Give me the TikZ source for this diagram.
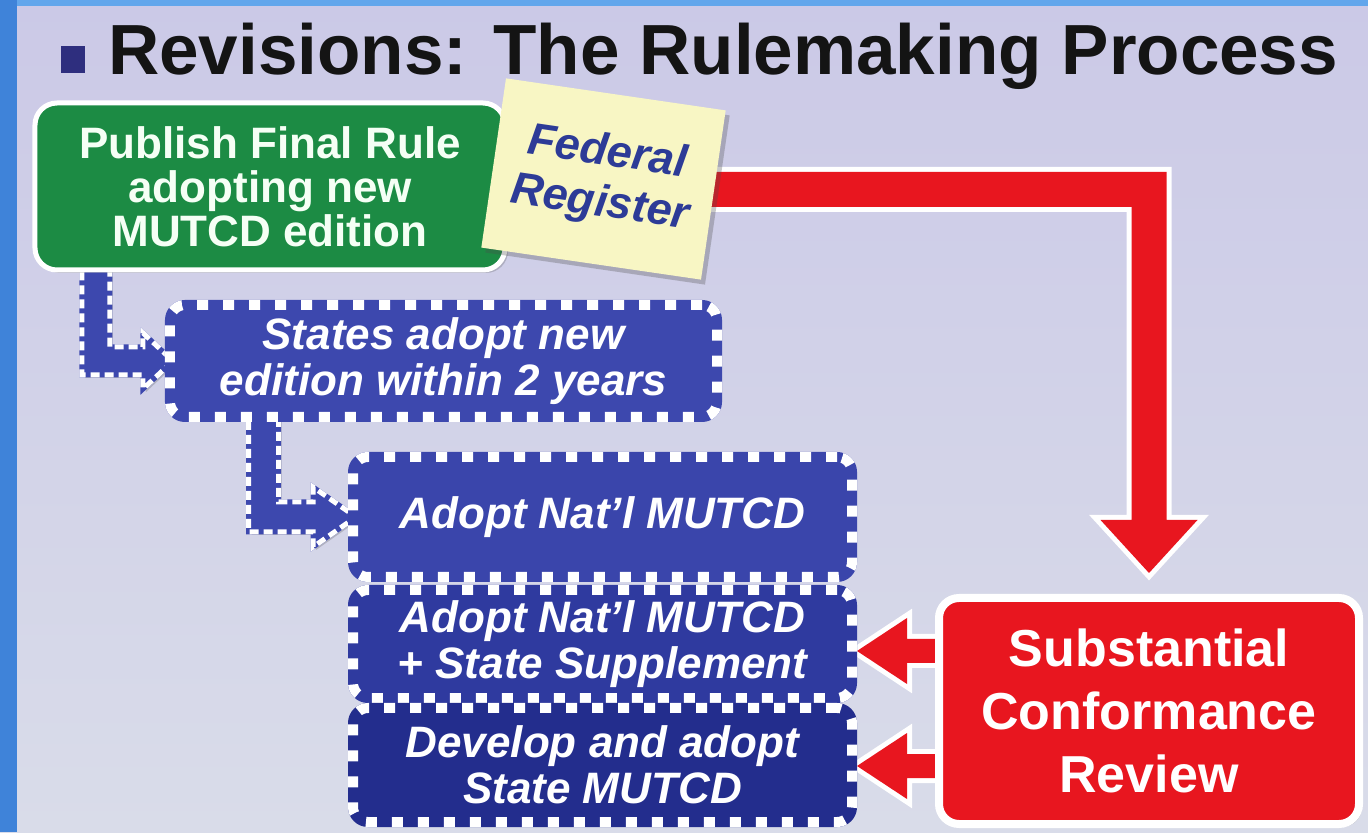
\documentclass[tikz,border=0pt]{standalone}
\usepackage{fontspec}
\setmainfont{Liberation Sans}
\usetikzlibrary{calc,shadows}
\pgfdeclarelayer{bg}
\pgfdeclarelayer{arr}
\pgfsetlayers{bg,arr,main}
\definecolor{bgtop}{HTML}{CBC9E7}
\definecolor{bgbot}{HTML}{D9DCE9}
\definecolor{stripL}{HTML}{3F83D9}
\definecolor{stripT}{HTML}{62A6EC}
\definecolor{navy}{HTML}{2E2E7E}
\definecolor{grn}{HTML}{1C8B44}
\definecolor{stickyc}{HTML}{F8F6C4}
\definecolor{stickytxt}{HTML}{2D3B97}
\definecolor{redc}{HTML}{E8161F}
\definecolor{blueA}{HTML}{3D48AE}
\definecolor{blueB}{HTML}{3A45AB}
\definecolor{blueC}{HTML}{2F3A9F}
\definecolor{blueD}{HTML}{232D8D}
\tikzset{
  shad/.style={drop shadow={shadow xshift=3bp, shadow yshift=-3bp, opacity=0.25, fill=black!70}},
  greenbox/.style={draw=white, line width=5bp, fill=grn, rounded corners=22bp,
    minimum width=470bp, minimum height=167bp, text=white!96!green, align=center,
    font=\bfseries\fontsize{44bp}{44bp}\selectfont, inner sep=0pt, shad},
  stickynote/.style={fill=stickyc, rotate=-8.3, minimum width=222bp, minimum height=171bp,
    align=center, text=stickytxt, inner sep=0pt,
    font=\bfseries\itshape\fontsize{45bp}{51bp}\selectfont,
    drop shadow={shadow xshift=4bp, shadow yshift=-5bp, opacity=0.3, fill=black!70}},
  dbox/.style={fill=#1, draw=#1, line width=10bp, rounded corners=15bp,
    postaction={draw=white, line width=10bp, dash pattern=on 11bp off 15bp},
    text=white, align=center, inner sep=0pt,
    font=\bfseries\itshape\fontsize{44bp}{46bp}\selectfont, shad},
  redbox/.style={draw=white, line width=8bp, fill=redc, rounded corners=20bp,
    minimum width=420bp, minimum height=226bp, text=white, align=center,
    font=\bfseries\fontsize{52bp}{63bp}\selectfont, inner sep=0pt, shad},
  redarrow/.style={draw=white, line width=10bp, line join=miter, fill=redc,
    postaction={fill=redc}, shad},
  larrow/.style={fill=blueA, draw=blueA, line width=5bp, line join=miter,
    postaction={draw=white, line width=5bp, dash pattern=on 9bp off 5bp}, shad}
}
\begin{document}
\begin{tikzpicture}[x=1bp,y=1bp]
\useasboundingbox (0,0) rectangle (1368,832);
\begin{pgfonlayer}{bg}
  \shade[top color=bgtop, bottom color=bgbot] (0,0) rectangle (1368,832);
  \fill[stripT] (0,826) rectangle (1368,832);
  \fill[stripL] (0,0) rectangle (17,832);
\end{pgfonlayer}

% title
\node[fill=navy, minimum width=24bp, minimum height=27bp, inner sep=0pt, anchor=south west] (bul) at (61,759) {};
\node[anchor=base west, inner sep=0pt, text=black!92,
  font=\bfseries\fontsize{71bp}{72bp}\selectfont] (title) at (108,757) {Revisions: The Rulemaking Process};

% nodes
\node[greenbox] (pub) at (270,645.5) {Publish Final Rule\\adopting new\\MUTCD edition};
\node[stickynote] (fed) at (603.5,653) {Federal\\Register};
\node[dbox=blueA, minimum width=547bp, minimum height=112bp] (st) at (443.5,471) {States adopt new\\edition within 2 years};
\node[dbox=blueB, minimum width=499bp, minimum height=120bp] (b2) at (602.5,315) {Adopt Nat’l MUTCD};
\node[dbox=blueC, minimum width=499bp, minimum height=108bp] (b3) at (602.5,188) {Adopt Nat’l MUTCD\\+ State Supplement};
\node[dbox=blueD, minimum width=499bp, minimum height=114bp] (b4) at (602.5,67) {Develop and adopt\\State MUTCD};
\node[redbox] (scr) at (1149,121) {Substantial\\Conformance\\Review};

% connectors
\begin{pgfonlayer}{arr}
  % big red arrow: Federal Register -> Substantial Conformance Review
  \path[redarrow] let \p1=($(pub.east)+(0,-3)$), \p2=($(scr.north)+(0,21)$) in
    (\x1,\y1+17.5bp) -- (\x2+17.5bp,\y1+17.5bp) -- (\x2+17.5bp,\y2+53bp)
    -- (\x2+48.5bp,\y2+53bp) -- (\x2,\y2) -- (\x2-48.5bp,\y2+53bp)
    -- (\x2-17.5bp,\y2+53bp) -- (\x2-17.5bp,\y1-17.5bp) -- (\x1,\y1-17.5bp) -- cycle;
  % small red arrows: review -> boxes
  \path[redarrow] let \p1=(scr.west), \p2=($(b3.east)+(0,-7)$) in
    (\x1+10bp,\y2+12bp) -- (\x2+50bp,\y2+12bp) -- (\x2+50bp,\y2+33bp) -- (\x2,\y2)
    -- (\x2+50bp,\y2-33bp) -- (\x2+50bp,\y2-12bp) -- (\x1+10bp,\y2-12bp) -- cycle;
  \path[redarrow] let \p1=(scr.west), \p2=($(b4.east)+(0,-1)$) in
    (\x1+10bp,\y2+12bp) -- (\x2+50bp,\y2+12bp) -- (\x2+50bp,\y2+33bp) -- (\x2,\y2)
    -- (\x2+50bp,\y2-33bp) -- (\x2+50bp,\y2-12bp) -- (\x1+10bp,\y2-12bp) -- cycle;
  % blue L arrows
  \path[larrow] let \p1=($(pub.south west)+(63.5,15)$), \p2=($(st.west)+(8,0)$) in
    (\x1-14bp,\y1) -- (\x1-14bp,\y2-14bp) -- (\x2-30bp,\y2-14bp) -- (\x2-30bp,\y2-28bp)
    -- (\x2,\y2) -- (\x2-30bp,\y2+28bp) -- (\x2-30bp,\y2+14bp) -- (\x1+14bp,\y2+14bp)
    -- (\x1+14bp,\y1) -- cycle;
  \path[larrow] let \p1=($(st.south west)+(98.5,15)$), \p2=($(b2.west)+(8,0)$) in
    (\x1-15bp,\y1) -- (\x1-15bp,\y2-15bp) -- (\x2-43bp,\y2-15bp) -- (\x2-43bp,\y2-30bp)
    -- (\x2,\y2) -- (\x2-43bp,\y2+30bp) -- (\x2-43bp,\y2+15bp) -- (\x1+15bp,\y2+15bp)
    -- (\x1+15bp,\y1) -- cycle;
\end{pgfonlayer}
\end{tikzpicture}
\end{document}
